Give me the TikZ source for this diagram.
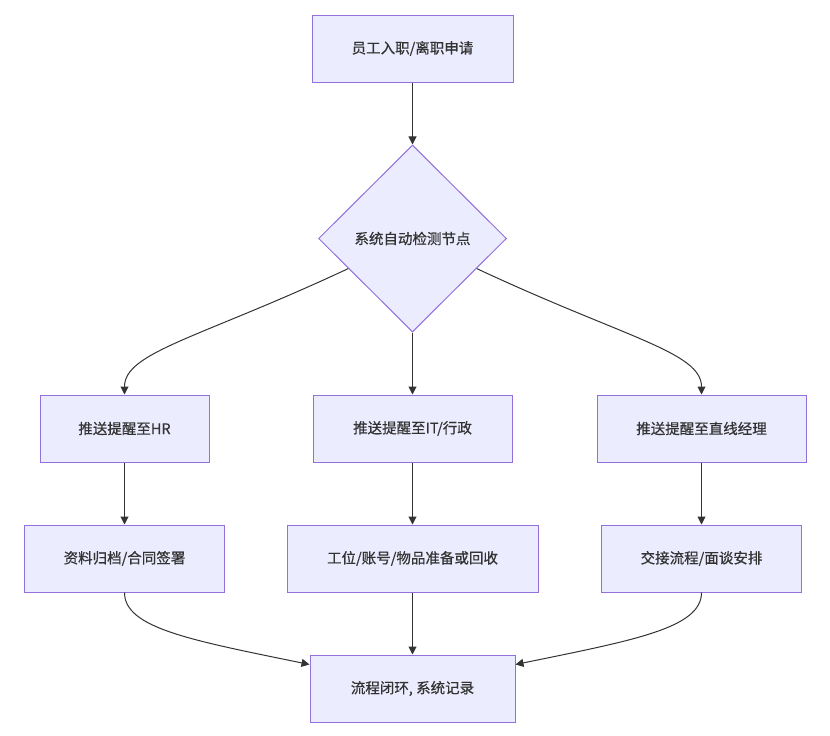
\documentclass[tikz,border=0pt]{standalone}
\usepackage{fontspec}
\newfontfamily\cjk[FakeBold=0.6]{Noto Sans CJK SC}
\usetikzlibrary{calc,arrows.meta,shapes.geometric}
\definecolor{boxfill}{HTML}{ECECFF}
\definecolor{boxline}{HTML}{9370DB}
\definecolor{linkcol}{HTML}{333333}
\tikzset{
  box/.style={draw=boxline, fill=boxfill, line width=1pt, minimum height=67pt, inner sep=0pt,
    text=linkcol, font=\cjk\fontsize{14.5}{16}\selectfont},
  decide/.style={box, diamond, minimum width=188pt, minimum height=187pt},
  link/.style={draw=linkcol, line width=1pt, -{Triangle[length=8pt,width=8pt]}}
}
\begin{document}
\begin{tikzpicture}[x=1pt, y=-1pt]
			%%%%% START %%%%%
			\useasboundingbox (0, 0) rectangle (830, 736);
			
			\node[box, minimum width=201pt] (apply) at (412.5, 48.5) {员工入职/离职申请};
			\node[decide] (check) at (412.5, 238.5) {系统自动检测节点};
			
			\node[box, minimum width=169pt] (hr) at (124.5, 428.5) {推送提醒至HR};
			\node[box, minimum width=199pt] (it) at (412.5, 428.5) {推送提醒至IT/行政};
			\node[box, minimum width=209pt] (mgr) at (701.5, 428.5) {推送提醒至直线经理};
			
			\node[box, minimum width=200pt] (hrdo) at (124.5, 558.5) {资料归档/合同签署};
			\node[box, minimum width=251pt] (itdo) at (412.5, 558.5) {工位/账号/物品准备或回收};
			\node[box, minimum width=200pt] (mgrdo) at (701.5, 558.5) {交接流程/面谈安排};
			
			\node[box, minimum width=205pt] (done) at (412.5, 688.5) {流程闭环, 系统记录};
			
			\coordinate (checkl) at ($(check.west)!0.32!(check.south)$);
			\coordinate (checkr) at ($(check.east)!0.32!(check.south)$);
			\coordinate (donel) at ($(done.north west)+(0, 10)$);
			\coordinate (doner) at ($(done.north east)+(0, 10)$);
			
			\draw[link] (apply) -- (check);
			\draw[link] (checkl) .. controls (200, 338) and (124.5, 352) .. (hr.north);
			\draw[link] (check) -- (it);
			\draw[link] (checkr) .. controls (625, 338) and (701.5, 352) .. (mgr.north);
			
			\draw[link] (hr) -- (hrdo);
			\draw[link] (it) -- (itdo);
			\draw[link] (mgr) -- (mgrdo);
			
			\draw[link] (hrdo.south) .. controls (124.5, 628) and (190, 640) .. (donel);
			\draw[link] (itdo) -- (done);
			\draw[link] (mgrdo.south) .. controls (701.5, 628) and (635, 640) .. (doner);
			
			%%%%% END %%%%%
\end{tikzpicture}
\end{document}
